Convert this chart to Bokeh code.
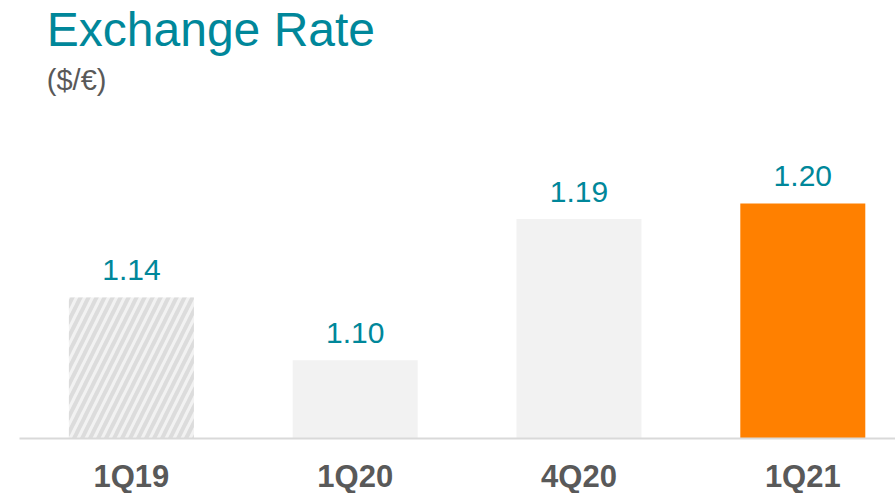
from bokeh.plotting import figure
from bokeh.models import Range1d, FixedTicker, Label, ColumnDataSource
from bokeh.core.properties import value
from bokeh.embed import file_html
from bokeh.resources import INLINE

categories = ["1Q19", "1Q20", "4Q20", "1Q21"]
rates = [1.14, 1.10, 1.19, 1.20]
fills = ["#f2f2f2", "#f2f2f2", "#f2f2f2", "#ff8000"]
hatches = ["/", " ", " ", " "]

TEAL = "#00879a"
GRAY = "#595959"
FONT = "Liberation Sans"

xs = list(range(len(categories)))
src = ColumnDataSource(dict(
    x=xs, top=rates, fill=fills, hatch=hatches,
    label=[f"{v:.2f}" for v in rates],
))

p = figure(frame_width=876, frame_height=430, output_backend="svg", toolbar_location=None,
           x_range=Range1d(-0.5, -0.5 + 876 / 223.8),
           y_range=Range1d(1.05, 1.05 + 430 / 1567),
           min_border_left=19, min_border_right=0, min_border_top=8,
           min_border_bottom=55)
p.outline_line_color = None
p.grid.visible = False
p.yaxis.visible = False
p.background_fill_color = "white"
p.border_fill_color = "white"

p.vbar(x="x", top="top", bottom=1.0, width=0.5585, source=src,
       fill_color="fill", line_color=None,
       hatch_pattern="hatch", hatch_color="#dcdcdc", hatch_scale=16, hatch_weight=4)

p.text(x="x", y="top", text="label", source=src, text_align="center",
       text_baseline="alphabetic", y_offset=-27, text_color=TEAL,
       text_font=value(FONT), text_font_size="30px")

ax = p.xaxis[0]
ax.ticker = FixedTicker(ticks=xs)
ax.major_label_overrides = {i: c for i, c in zip(xs, categories)}
ax.axis_line_color = "#d9d9d9"
ax.axis_line_width = 2
ax.major_tick_line_color = None
ax.minor_tick_line_color = None
ax.major_tick_out = 0
ax.major_tick_in = 0
ax.major_label_standoff = 20
ax.major_label_text_font = FONT
ax.major_label_text_font_style = "bold"
ax.major_label_text_font_size = "31px"
ax.major_label_text_color = GRAY

p.add_layout(Label(x=-0.378, y=1.311, text="Exchange Rate", text_color=TEAL,
                   text_font=FONT, text_font_size="48px", text_baseline="alphabetic"))
p.add_layout(Label(x=-0.378, y=1.279, text="($/€)", text_color=GRAY,
                   text_font=FONT, text_font_size="29px", text_baseline="alphabetic"))

open("out.html", "w").write(file_html(p, INLINE))
